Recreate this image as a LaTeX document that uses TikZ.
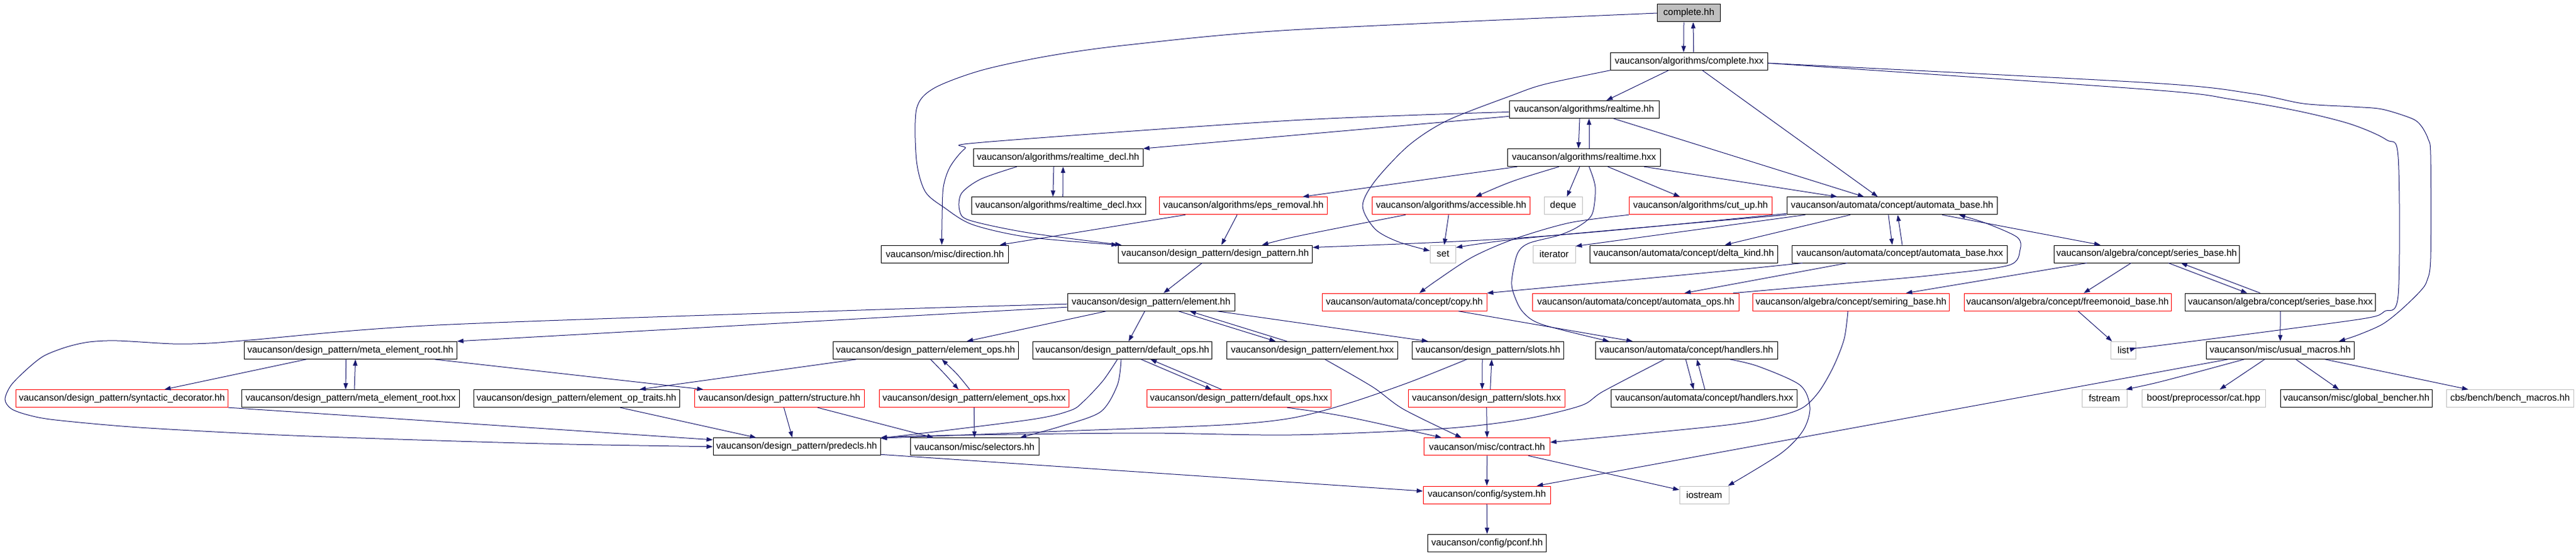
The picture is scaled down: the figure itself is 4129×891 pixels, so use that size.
\documentclass[tikz,border=0pt]{standalone}
\usepackage{fontspec}
\setmainfont{Liberation Sans}
\usetikzlibrary{arrows.meta}
\definecolor{edgeblue}{HTML}{191970}
\definecolor{sysgray}{HTML}{BFBFBF}
\definecolor{errred}{HTML}{FF0000}

\begin{document}
\begin{tikzpicture}
     [
     x=1pt, y=-1pt,
     every node/.style={font=\fontsize{15}{18}\selectfont},
     file/.style={draw=black, line width=1pt, minimum height=28pt, inner xsep=1pt, inner ysep=0pt},
     redfile/.style={file, draw=errred},
     sysfile/.style={file, draw=sysgray},
     dep/.style={draw=edgeblue, line width=1pt, -{Triangle[length=10pt,width=7pt]}}
     ]
     \path[use as bounding box, fill=white] (0,0) rectangle (4129,891);
     % rows of the include graph
     \node[file, fill=sysgray, minimum width=101pt] (cplthh) at (2707,21) {complete.hh};
     \node[file, minimum width=252pt] (cplthxx) at (2707.6,98.2) {vaucanson/algorithms/complete.hxx};
     \node[file, minimum width=240pt] (rthh) at (2539,175.4) {vaucanson/algorithms/realtime.hh};
     \node[file, minimum width=272pt] (rtdeclhh) at (1696,252.6) {vaucanson/algorithms/realtime\_decl.hh};
     \node[file, minimum width=245pt] (rthxx) at (2539,252.6) {vaucanson/algorithms/realtime.hxx};
     \node[file, minimum width=279pt] (rtdeclhxx) at (1696.7,329.8) {vaucanson/algorithms/realtime\_decl.hxx};
     \node[redfile, minimum width=269pt] (epsrm) at (1993,329.8) {vaucanson/algorithms/eps\_removal.hh};
     \node[redfile, minimum width=253pt] (access) at (2326,329.8) {vaucanson/algorithms/accessible.hh};
     \node[sysfile, minimum width=61pt] (deque) at (2505.5,329.8) {deque};
     \node[redfile, minimum width=229pt] (cutup) at (2725.7,329.8) {vaucanson/algorithms/cut\_up.hh};
     \node[file, minimum width=337.5pt] (autbasehh) at (3032.8,329.8) {vaucanson/automata/concept/automata\_base.hh};
     \node[file, minimum width=204pt] (direction) at (1514.6,407) {vaucanson/misc/direction.hh};
     \node[file, minimum width=311.5pt] (dphh) at (1947.8,407) {vaucanson/design\_pattern/design\_pattern.hh};
     \node[sysfile, minimum width=41pt] (set) at (2312.9,407) {set};
     \node[sysfile, minimum width=68pt] (iterator) at (2491,407) {iterator};
     \node[file, minimum width=301pt] (deltakind) at (2698.7,407) {vaucanson/automata/concept/delta\_kind.hh};
     \node[file, minimum width=344.6pt] (autbasehxx) at (3045,407) {vaucanson/automata/concept/automata\_base.hxx};
     \node[file, minimum width=297pt] (seriesbasehh) at (3440.8,407) {vaucanson/algebra/concept/series\_base.hh};
     \node[file, minimum width=268pt] (elementhh) at (1845,484.2) {vaucanson/design\_pattern/element.hh};
     \node[redfile, minimum width=264pt] (copyhh) at (2251,484.2) {vaucanson/automata/concept/copy.hh};
     \node[redfile, minimum width=331pt] (autops) at (2622,484.2) {vaucanson/automata/concept/automata\_ops.hh};
     \node[redfile, minimum width=315.6pt] (semiring) at (2967,484.2) {vaucanson/algebra/concept/semiring\_base.hh};
     \node[redfile, minimum width=332pt] (freemonoid) at (3314,484.2) {vaucanson/algebra/concept/freemonoid\_base.hh};
     \node[file, minimum width=304.5pt] (seriesbasehxx) at (3655,484.2) {vaucanson/algebra/concept/series\_base.hxx};
     \node[file, minimum width=341pt] (metaroothh) at (561.7,561.4) {vaucanson/design\_pattern/meta\_element\_root.hh};
     \node[file, minimum width=297pt] (eltopshh) at (1483.6,561.4) {vaucanson/design\_pattern/element\_ops.hh};
     \node[file, minimum width=287.6pt] (defopshh) at (1799,561.4) {vaucanson/design\_pattern/default\_ops.hh};
     \node[file, minimum width=273.5pt] (elementhxx) at (2103.7,561.4) {vaucanson/design\_pattern/element.hxx};
     \node[file, minimum width=243.7pt] (slotshh) at (2385,561.4) {vaucanson/design\_pattern/slots.hh};
     \node[file, minimum width=292pt] (handlershh) at (2703,561.4) {vaucanson/automata/concept/handlers.hh};
     \node[sysfile, minimum width=40pt] (list) at (3403.3,561.4) {list};
     \node[file, minimum width=236.5pt] (usualmacros) at (3654.9,561.4) {vaucanson/misc/usual\_macros.hh};
     \node[redfile, minimum width=340pt] (syntactic) at (195.5,638.6) {vaucanson/design\_pattern/syntactic\_decorator.hh};
     \node[file, minimum width=348.5pt] (metaroothxx) at (562,638.6) {vaucanson/design\_pattern/meta\_element\_root.hxx};
     \node[file, minimum width=330pt] (eltoptraits) at (924,638.6) {vaucanson/design\_pattern/element\_op\_traits.hh};
     \node[redfile, minimum width=272.3pt] (structure) at (1249.4,638.6) {vaucanson/design\_pattern/structure.hh};
     \node[redfile, minimum width=304.5pt] (eltopshxx) at (1561.3,638.6) {vaucanson/design\_pattern/element\_ops.hxx};
     \node[redfile, minimum width=294.5pt] (defopshxx) at (1986,638.6) {vaucanson/design\_pattern/default\_ops.hxx};
     \node[redfile, minimum width=251.4pt] (slotshxx) at (2382.7,638.6) {vaucanson/design\_pattern/slots.hxx};
     \node[file, minimum width=297.6pt] (handlershxx) at (2731.7,638.6) {vaucanson/automata/concept/handlers.hxx};
     \node[sysfile, minimum width=72pt] (fstream) at (3373,638.6) {fstream};
     \node[sysfile, minimum width=198pt] (boostcat) at (3532,638.6) {boost/preprocessor/cat.hpp};
     \node[file, minimum width=243.8pt] (globalbencher) at (3777,638.6) {vaucanson/misc/global\_bencher.hh};
     \node[sysfile, minimum width=204.4pt] (benchmacros) at (4023.4,638.6) {cbs/bench/bench\_macros.hh};
     \node[file, minimum width=268pt] (predecls) at (1277,715.8) {vaucanson/design\_pattern/predecls.hh};
     \node[file, minimum width=206pt] (selectors) at (1562,715.8) {vaucanson/misc/selectors.hh};
     \node[redfile, minimum width=201.4pt] (contract) at (2383.6,715.8) {vaucanson/misc/contract.hh};
     \node[redfile, minimum width=204pt] (system) at (2383.2,793) {vaucanson/config/system.hh};
     \node[sysfile, minimum width=79pt] (iostream) at (2731.7,793) {iostream};
     \node[file, minimum width=190.6pt] (pconf) at (2383.6,870.2) {vaucanson/config/pconf.hh};
     % includes
     \draw[dep] ([xshift=-8pt]cplthh.south) -- ([xshift=-9pt]cplthxx.north);
     \draw[dep] ([xshift=7pt]cplthxx.north) -- ([xshift=7pt]cplthh.south);
     \draw[dep] plot[smooth, tension=0.5] coordinates {(cplthh.west) (2070,48) (1808,72) (1679,90) (1572,113) (1496,142) (1469,175) (1469,257) (1483,307) (1514,333) (1559,360) (1648,380) (dphh.north west)};
     \draw[dep] ([xshift=-33pt]cplthxx.south) -- ([xshift=36pt]rthh.north);
     \draw[dep] ([xshift=21pt]cplthxx.south) -- ([xshift=-23pt]autbasehh.north);
     \draw[dep] plot[smooth, tension=0.5] coordinates {(cplthxx.south west) (2476,135) (2423,153) (2320,193) (2258,233) (2204,290) (2184,330) (2204,367) (2240,387) ([yshift=5pt]set.west)};
     \draw[dep] plot[smooth, tension=0.5] coordinates {([yshift=-3pt]cplthxx.east) (3450,144) (3576,159) (3684,178) (3768,199) (3825,224) (3844,252) (3844,473) (3822,499) (3792,510) (3645,530) (3450,555) ([yshift=4pt]list.east)};
     \draw[dep] plot[smooth, tension=0.5] coordinates {([yshift=-3pt]cplthxx.east) (3450,133) (3610,150) (3692,166) (3770,171) (3818,175) (3866,190) (3881,202) (3892,223) (3896,250) (3896,413) (3890,450) (3879,467) (3848,497) (3818,520) (3779,537) ([xshift=94pt]usualmacros.north)};
     \draw[dep] ([yshift=-11pt]rthh.west) -- (rtdeclhh.north east);
     \draw[dep] plot[smooth, tension=0.5] coordinates {([yshift=-4pt]rthh.west) (2070,193) (1576,228) (1547,238) (1523,267) (1512,300) (1510,350) ([xshift=-5pt]direction.north)};
     \draw[dep] ([xshift=-7pt]rthh.south) -- ([xshift=-9pt]rthxx.north);
     \draw[dep] ([xshift=8pt]rthxx.north) -- ([xshift=8pt]rthh.south);
     \draw[dep] ([xshift=47pt]rthh.south) -- ([xshift=-45pt]autbasehh.north);
     \draw[dep] ([xshift=-7pt]rtdeclhh.south) -- ([xshift=-9pt]rtdeclhxx.north);
     \draw[dep] ([xshift=7pt]rtdeclhxx.north) -- ([xshift=8pt]rtdeclhh.south);
     \draw[dep] plot[smooth, tension=0.5] coordinates {([xshift=-66pt]rtdeclhh.south) (1572,287) (1541,310) (1538,337) (1554,353) (1648,373) ([xshift=6pt]dphh.north west)};
     \draw[dep] ([xshift=-107pt]rthxx.south) -- ([xshift=95pt]epsrm.north);
     \draw[dep] ([xshift=-40pt]rthxx.south) .. controls (2423,290) .. ([xshift=39pt]access.north);
     \draw[dep] ([xshift=-7pt]rthxx.south) -- ([xshift=6pt]deque.north);
     \draw[dep] ([xshift=38pt]rthxx.south) -- ([xshift=-33pt]cutup.north);
     \draw[dep] ([xshift=96pt]rthxx.south) -- ([xshift=-88pt]autbasehh.north);
     \draw[dep] plot[smooth, tension=0.5] coordinates {([xshift=8pt]rthxx.south) (2557,300) (2552,343) (2530,363) (2499,377) (2450,390) (2432,407) (2423,450) (2427,473) (2441,500) (2472,520) ([xshift=-124pt]handlershh.north)};
     \draw[dep] ([xshift=-93pt]epsrm.south) -- ([xshift=88pt]direction.north);
     \draw[dep] ([xshift=-10pt]epsrm.south) -- ([xshift=10pt]dphh.north);
     \draw[dep] ([xshift=-73pt]access.south) .. controls (2070,380) .. ([xshift=75pt]dphh.north);
     \draw[dep] ([xshift=-4pt]access.south) -- ([xshift=2pt]set.north);
     \draw[dep] ([yshift=2pt]autbasehh.south west) .. controls (2450,383) .. ([yshift=-4pt]dphh.north east);
     \draw[dep] (autbasehh.south west) .. controls (2420,383) .. ([yshift=-4pt]set.north east);
     \draw[dep] ([xshift=30pt]autbasehh.south west) -- ([yshift=-2pt]iterator.north east);
     \draw[dep] ([xshift=-67pt]autbasehh.south) -- ([xshift=66pt]deltakind.north);
     \draw[dep] ([xshift=-6pt]autbasehh.south) -- ([xshift=-12pt]autbasehxx.north);
     \draw[dep] ([xshift=4pt]autbasehxx.north) -- ([xshift=9pt]autbasehh.south);
     \draw[dep] ([xshift=80pt]autbasehh.south) -- ([xshift=-74pt]seriesbasehh.north);
     \draw[dep] plot[smooth, tension=0.5] coordinates {([xshift=-10pt]autops.north east) (3004,450) (3108,440) (3220,425) (3238,400) (3233,380) (3184,358) ([xshift=-62pt]autbasehh.south east)};
     \draw[dep] ([xshift=17pt]autbasehxx.south west) .. controls (2760,435) .. (copyhh.north east);
     \draw[dep] ([xshift=-84pt]autbasehxx.south) -- ([xshift=78pt]autops.north);
     \draw[dep] plot[smooth, tension=0.5] coordinates {(cutup.south west) (2516,357) (2427,383) (2360,412) (2302,450) ([xshift=24pt]copyhh.north)};
     \draw[dep] ([xshift=-96pt]seriesbasehh.south) -- ([xshift=88pt]semiring.north);
     \draw[dep] ([xshift=-25pt]seriesbasehh.south) -- ([xshift=26pt]freemonoid.north);
     \draw[dep] ([xshift=35pt]seriesbasehh.south) -- ([xshift=-53pt]seriesbasehxx.north);
     \draw[dep] ([xshift=-32pt]seriesbasehxx.north) -- ([xshift=55pt]seriesbasehh.south);
     \draw[dep] ([xshift=-21pt]dphh.south) -- ([xshift=20pt]elementhh.north);
     \draw[dep] ([yshift=-8pt]elementhh.west) -- (metaroothh.north east);
     \draw[dep] plot[smooth, tension=0.5] coordinates {([yshift=-3pt]elementhh.west) (1380,497) (700,521) (400,545) (335,550) (277,551) (188,546) (143,548) (107,556) (71,570) (45,590) (18,617) (8,640) (18,655) (45,665) (89,673) (223,685) (446,697) (700,706) (913,712) (predecls.west)};
     \draw[dep] ([xshift=-72pt]elementhh.south) -- ([xshift=66pt]eltopshh.north);
     \draw[dep] ([xshift=-10pt]elementhh.south) -- ([xshift=10pt]defopshh.north);
     \draw[dep] ([xshift=44pt]elementhh.south) -- ([xshift=-59pt]elementhxx.north);
     \draw[dep] ([xshift=-41pt]elementhxx.north) -- ([xshift=62pt]elementhh.south);
     \draw[dep] ([xshift=106pt]elementhh.south) -- ([xshift=-96pt]slotshh.north);
     \draw[dep] ([xshift=87pt]copyhh.south) -- ([xshift=-86pt]handlershh.north);
     \draw[dep] (seriesbasehxx.south) -- (usualmacros.north);
     \draw[dep] ([xshift=17pt]freemonoid.south) -- ([xshift=-18pt]list.north);
     \draw[dep] plot[smooth, tension=0.5] coordinates {([xshift=-5pt]semiring.south) (2956,543) (2939,587) (2916,627) (2890,653) (2849,667) (2760,682) ([yshift=7pt]contract.east)};
     \draw[dep] ([xshift=-84pt]usualmacros.south) -- ([xshift=80pt]system.north);
     \draw[dep] plot[smooth, tension=0.5] coordinates {([xshift=70pt]handlershh.south) (2818,587) (2885,617) (2901,653) (2890,690) (2854,727) ([xshift=-2pt]iostream.north east)};
     \draw[dep] ([xshift=-1pt]handlershh.south) -- ([xshift=-17pt]handlershxx.north);
     \draw[dep] ([xshift=1pt]handlershxx.north) -- ([xshift=17pt]handlershh.south);
     \draw[dep] plot[smooth, tension=0.5] coordinates {([xshift=-35pt]handlershh.south) (2570,627) (2534,650) (2441,672) (2311,687) (2070,697) (1826,694) (1500,698) (predecls.north east)};
     \draw[dep] plot[smooth, tension=0.5] coordinates {([xshift=-34pt]slotshh.south) (2258,613) (2159,647) (2070,670) (1960,681) (1700,691) ([yshift=-1pt]predecls.north east)};
     \draw[dep] plot[smooth, tension=0.5] coordinates {([xshift=-8pt]defopshh.south) (1768,610) (1737,643) (1715,658) (1648,673) ([yshift=-1pt]predecls.north east)};
     \draw[dep] plot[smooth, tension=0.5] coordinates {([xshift=-2pt]defopshh.south) (1791,617) (1764,660) (1701,683) ([xshift=73pt]selectors.north)};
     \draw[dep] ([xshift=-111pt]eltopshh.south) -- ([xshift=101pt]eltoptraits.north);
     \draw[dep] ([xshift=8pt]eltopshh.south) .. controls (1515,600) .. ([xshift=-25pt]eltopshxx.north);
     \draw[dep] ([xshift=-7pt]eltopshxx.north) .. controls (1535,600) .. ([xshift=26pt]eltopshh.south);
     \draw[dep] ([xshift=-71pt]metaroothh.south) -- ([xshift=68pt]syntactic.north);
     \draw[dep] ([xshift=-7pt]metaroothh.south) -- ([xshift=-8pt]metaroothxx.north);
     \draw[dep] ([xshift=6pt]metaroothxx.north) -- ([xshift=8pt]metaroothh.south);
     \draw[dep] ([xshift=135pt]metaroothh.south) -- ([xshift=-122pt]structure.north);
     \draw[dep] ([xshift=30pt]defopshh.south) -- ([xshift=-44pt]defopshxx.north);
     \draw[dep] ([xshift=-28pt]defopshxx.north) -- ([xshift=45pt]defopshh.south);
     \draw[dep] plot[smooth, tension=0.5] coordinates {([xshift=20pt]elementhxx.south) (2200,620) (2250,656) ([xshift=-41pt]contract.north)};
     \draw[dep] ([xshift=77pt]defopshxx.south) .. controls (2150,665) .. ([xshift=-73pt]contract.north);
     \draw[dep] ([xshift=-9pt]slotshh.south) -- ([xshift=-7pt]slotshxx.north);
     \draw[dep] ([xshift=6pt]slotshxx.north) -- ([xshift=6pt]slotshh.south);
     \draw[dep] (slotshxx.south) -- (contract.north);
     \draw[dep] ([xshift=7pt]structure.south) -- ([xshift=-7pt]predecls.north);
     \draw[dep] ([xshift=61pt]structure.south) -- ([xshift=-66pt]selectors.north);
     \draw[dep] ([xshift=70pt]eltoptraits.south) -- ([xshift=-65pt]predecls.north);
     \draw[dep] (syntactic.south east) -- ([yshift=11pt]predecls.west);
     \draw[dep] (eltopshxx.south) -- (selectors.north);
     \draw[dep] ([yshift=2pt]predecls.south east) -- ([yshift=6pt]system.west);
     \draw[dep] (contract.south) -- (system.north);
     \draw[dep] ([xshift=66pt]contract.south) -- ([yshift=8pt]iostream.west);
     \draw[dep] (system.south) -- (pconf.north);
     \draw[dep] ([xshift=-58pt]usualmacros.south) .. controls (3460,613) .. ([xshift=-2pt]fstream.north east);
     \draw[dep] ([xshift=-25pt]usualmacros.south) -- ([xshift=26pt]boostcat.north);
     \draw[dep] ([xshift=25pt]usualmacros.south) -- ([xshift=-28pt]globalbencher.north);
     \draw[dep] ([xshift=72pt]usualmacros.south) -- ([xshift=-67pt]benchmacros.north);
\end{tikzpicture}
\end{document}
